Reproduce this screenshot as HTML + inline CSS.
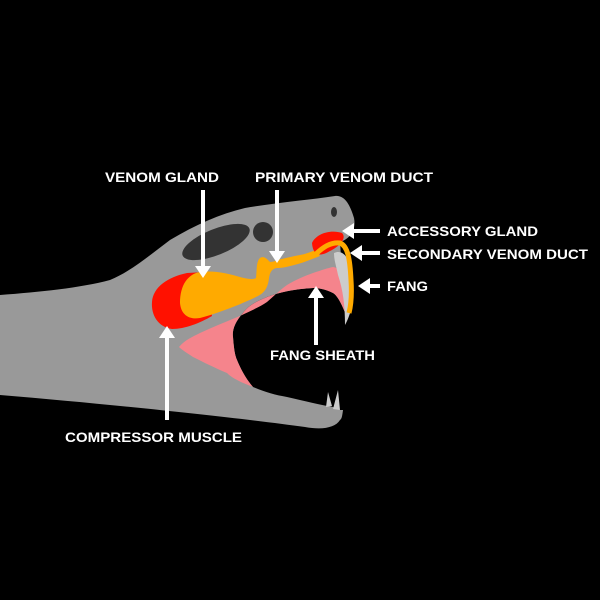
<!DOCTYPE html>
<html><head><meta charset="utf-8"><style>html,body{margin:0;padding:0;background:#000}svg{display:block}</style></head><body>
<svg width="600" height="600" viewBox="0 0 600 600" xmlns="http://www.w3.org/2000/svg">
<rect width="600" height="600" fill="#000"/>
<path d="M0,295 C40,292 80,288 110,280 C130,272 150,255 170,240 C195,225 220,214 245,208 C280,202 310,200 335,196 C345,195 350,205 354,218 C356,228 352,238 340,242 L346,330 L345,400 C342,412 343,418 340,420 C335,428 322,430 305,427 C240,418 120,405 0,395 Z" fill="#999"/>
<path d="M347,317 C342,305 338,296 333,293 C325,289 318,288 313,288 C295,289 280,292 267,297 C255,302 248,306 243,313 C235,322 232,330 233,337 C234,350 235,355 237,360 C242,372 247,380 253,387 C265,392 275,395 287,397 C305,401 320,405 333,407 L340,410 L352,410 L352,317 Z" fill="#000"/>
<path d="M179,347 C185,340 192,337 200,333 C215,326 228,321 240,316 C250,311 260,307 267,302 C275,295 280,290 287,285 C297,279 305,276 313,273 C322,270 328,268 333,267 C340,268 345,275 347,290 C348,300 348,310 347,317 C342,305 338,296 333,293 C325,289 318,288 313,288 C295,289 280,292 267,297 C255,302 248,306 243,313 C235,322 232,330 233,337 C234,350 235,355 237,360 C242,372 247,380 253,387 C240,382 232,378 227,373 C215,368 203,362 193,357 C187,353 182,350 179,347 Z" fill="#f5848c"/>
<path d="M326,407 L328,392 L332,406 Z M333,409 L338,390 L340,410 Z" fill="#ccc"/>
<path d="M334,253 C345,248 352,262 353,285 C354,305 349,318 345,325 C345,305 343,290 338,275 C336,265 334,260 334,253 Z" fill="#ccc"/>
<ellipse cx="216" cy="242" rx="36" ry="13" transform="rotate(-22 216 242)" fill="#333"/>
<circle cx="263" cy="232" r="10" fill="#333"/>
<ellipse cx="334" cy="212" rx="3" ry="5" fill="#333"/>
<path d="M152,302 C153,287 168,277 187,273 L205,272 L212,316 C200,323 185,329 172,329 C158,327 151,315 152,302 Z" fill="#f10"/>
<path d="M180,303 C180,285 188,274 200,272 C215,270 230,274 240,277 C248,279 253,280 256,278 C257,270 256,262 260,258 C264,255 268,260 270,262 C274,262 277,260 282,259 C290,257 295,256 300,255 C306,254 310,252 316,250 L320,256 C312,259 305,262 298,264 C290,266 284,268 278,268 C272,268 270,272 269,278 C268,288 264,293 258,296 C250,300 245,302 238,305 C225,310 212,315 200,318 C188,320 181,314 180,303 Z" fill="#fa0"/>
<path d="M312,243 C316,234 330,229 342,233 C347,238 340,246 330,251 C320,257 313,256 312,243 Z" fill="#f10"/>
<path d="M316,254 C324,246 332,242 340,243 C348,246 350,260 351,280 C352,295 351,305 349,313" fill="none" stroke="#fa0" stroke-width="5"/>
<g stroke="#fff" stroke-width="4" fill="none">
<line x1="203" y1="190" x2="203" y2="268"/>
<line x1="277" y1="190" x2="277" y2="253"/>
<line x1="380" y1="231" x2="352" y2="231"/>
<line x1="380" y1="253" x2="360" y2="253"/>
<line x1="380" y1="286" x2="368" y2="286"/>
<line x1="316" y1="345" x2="316" y2="296"/>
<line x1="167" y1="420" x2="167" y2="336"/>
</g>
<g fill="#fff">
<path d="M195,266 L211,266 L203,278 Z"/>
<path d="M269,251 L285,251 L277,263 Z"/>
<path d="M354,223 L354,239 L342,231 Z"/>
<path d="M362,245 L362,261 L350,253 Z"/>
<path d="M370,278 L370,294 L358,286 Z"/>
<path d="M308,298 L324,298 L316,286 Z"/>
<path d="M159,338 L175,338 L167,326 Z"/>
</g>
<g fill="#fff" font-family="Liberation Sans, sans-serif" font-weight="bold" font-size="14">
<text x="105" y="182" textLength="114" lengthAdjust="spacingAndGlyphs">VENOM GLAND</text>
<text x="255" y="182" textLength="178" lengthAdjust="spacingAndGlyphs">PRIMARY VENOM DUCT</text>
<text x="387" y="236" textLength="151" lengthAdjust="spacingAndGlyphs">ACCESSORY GLAND</text>
<text x="387" y="259" textLength="201" lengthAdjust="spacingAndGlyphs">SECONDARY VENOM DUCT</text>
<text x="387" y="291" textLength="41" lengthAdjust="spacingAndGlyphs">FANG</text>
<text x="270" y="360" textLength="105" lengthAdjust="spacingAndGlyphs">FANG SHEATH</text>
<text x="65" y="442" textLength="177" lengthAdjust="spacingAndGlyphs">COMPRESSOR MUSCLE</text>
</g>
</svg>
</body></html>
